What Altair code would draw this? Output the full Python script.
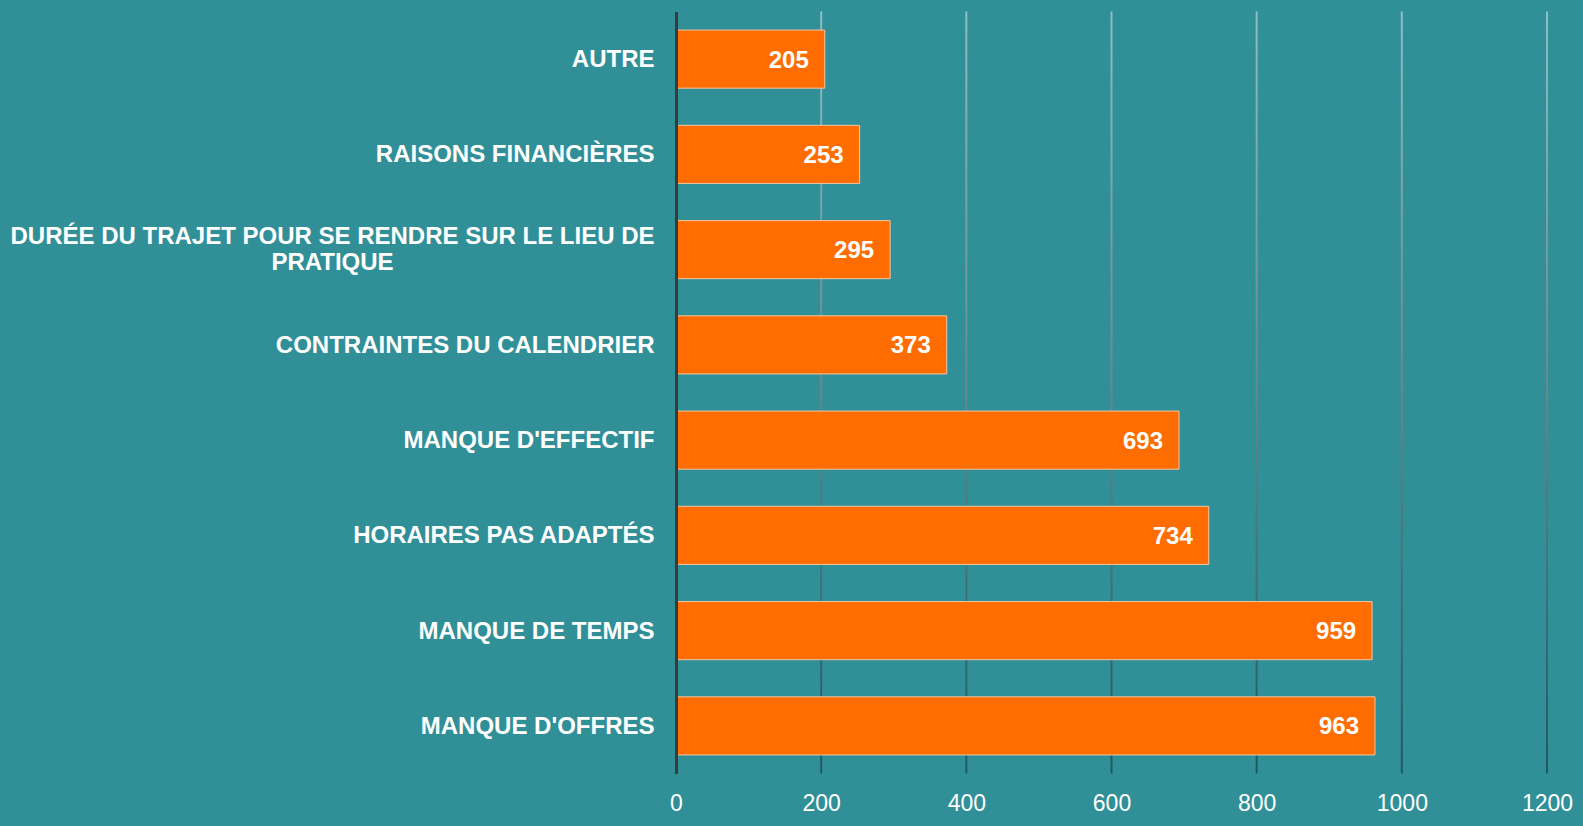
import altair as alt
import pandas as pd

categories = [
    "AUTRE",
    "RAISONS FINANCIÈRES",
    "DURÉE DU TRAJET POUR SE RENDRE SUR LE LIEU DE PRATIQUE",
    "CONTRAINTES DU CALENDRIER",
    "MANQUE D'EFFECTIF",
    "HORAIRES PAS ADAPTÉS",
    "MANQUE DE TEMPS",
    "MANQUE D'OFFRES",
]
values = [205, 253, 295, 373, 693, 734, 959, 963]
x_ticks = [0, 200, 400, 600, 800, 1000, 1200]
grid_values = [200, 400, 600, 800, 1000, 1200]
long_label_lines = ["DURÉE DU TRAJET POUR SE RENDRE SUR LE LIEU DE", "PRATIQUE"]

BG = "#318f98"
W, H = 871, 762

df = pd.DataFrame({"cat": categories, "val": values})
grid_df = pd.DataFrame({"g": grid_values})

is_long = "indexof(datum.label, 'DURÉE') == 0"
label_expr = (
    is_long + " ? ['" + long_label_lines[0] + "', '" + long_label_lines[1] + "'] : datum.label"
)

xscale = alt.Scale(domain=[0, 1200], nice=False, zero=True)
yscale = alt.Scale(domain=categories, paddingInner=0.39, paddingOuter=0.195)

x_axis = alt.Axis(
    values=x_ticks,
    format="d",
    title=None,
    domain=False,
    ticks=False,
    tickSize=0,
    grid=False,
    labelColor="white",
    labelFont="Liberation Sans",
    labelFontSize=23,
    labelPadding=19,
    labelFlush=False,
)

y_axis = alt.Axis(
    title=None,
    domain=True,
    domainColor="#3a3a3a",
    domainWidth=3,
    ticks=False,
    tickSize=0,
    grid=False,
    labelColor="white",
    labelFont="Liberation Sans",
    labelFontWeight="bold",
    labelFontSize=24,
    labelPadding={"condition": {"test": is_long, "value": 344}, "value": 22},
    labelAlign={"condition": {"test": is_long, "value": "center"}, "value": "right"},
    labelOffset={"condition": {"test": is_long, "value": -13}, "value": 1},
    labelLimit=0,
    labelLineHeight=26,
    labelExpr=label_expr,
    zindex=1,
)

gradient = alt.LinearGradient(
    gradient="linear",
    x1=0, y1=0, x2=0, y2=1,
    stops=[
        alt.GradientStop(offset=0, color="#8cbfc2"),
        alt.GradientStop(offset=0.5, color="#63898b"),
        alt.GradientStop(offset=1, color="#1d5a5f"),
    ],
)

grid = alt.Chart(grid_df).mark_tick(
    orient="vertical", thickness=2, size=H, fill=gradient, opacity=1, filled=True
).encode(x=alt.X("g:Q", scale=xscale, axis=x_axis))

bars = alt.Chart(df).mark_bar(
    color="#ff6d00", stroke="#f2c7a2", strokeWidth=1
).encode(
    x=alt.X("val:Q", scale=xscale, axis=x_axis),
    y=alt.Y("cat:N", sort=categories, scale=yscale, axis=y_axis),
)

text = alt.Chart(df).mark_text(
    align="right", baseline="middle", dx=-16, dy=1.5, color="white",
    font="Liberation Sans", fontWeight="bold", fontSize=24,
).encode(
    x=alt.X("val:Q", scale=xscale, axis=x_axis),
    y=alt.Y("cat:N", sort=categories, scale=yscale, axis=y_axis),
    text=alt.Text("val:Q", format="d"),
)

chart = alt.layer(grid, bars, text).properties(
    width=W,
    height=H,
    background=BG,
    padding={"left": 668, "top": 3.5, "right": 28, "bottom": 43},
    autosize=alt.AutoSizeParams(type="none"),
).configure_view(stroke=None)

chart.save(
    "out.html",
    embed_options={
        "renderer": "svg",
        "actions": False,
        "defaultStyle": "body{background:#318f98;}",
    },
)
